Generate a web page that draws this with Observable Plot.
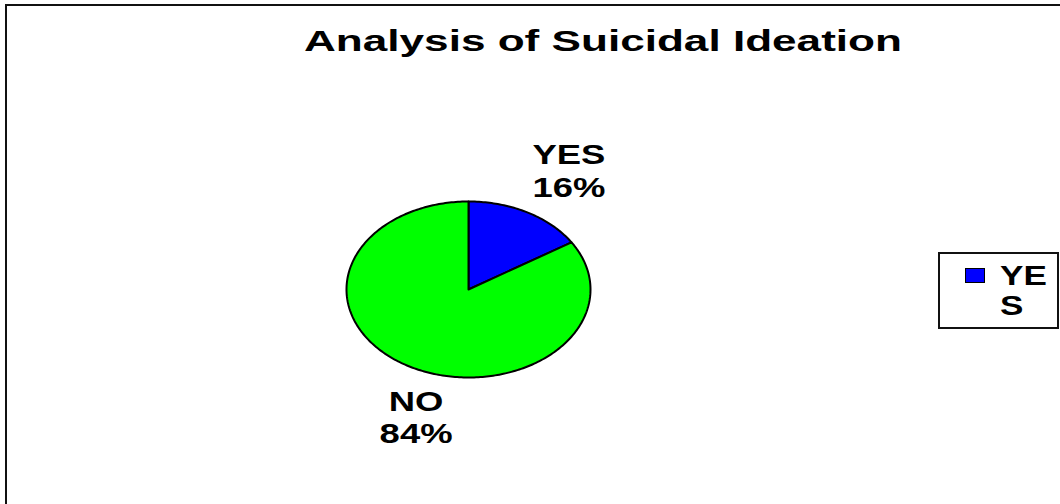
<!DOCTYPE html>
<html><head><meta charset="utf-8">
<script src="https://cdn.jsdelivr.net/npm/d3@7"></script>
<script src="https://cdn.jsdelivr.net/npm/@observablehq/plot@0.6"></script>
<style>
html,body{margin:0;padding:0;background:#fff;overflow:hidden;}
#wrap{position:relative;width:1060px;height:504px;overflow:hidden;font-family:"Liberation Sans",Arial,sans-serif;font-weight:bold;color:#000;}
#frame{position:absolute;left:5px;top:4px;width:1200px;height:700px;border:2px solid #111;box-sizing:border-box;}
#title{position:absolute;left:603px;top:26px;font-size:30px;line-height:30px;white-space:nowrap;transform:translateX(-50%) scaleX(1.47);}
#chart{position:absolute;left:0;top:0;}
#legend{position:absolute;left:938px;top:252px;width:121px;height:77px;border:2px solid #111;box-sizing:border-box;}
#legend .sw{position:absolute;left:25px;top:14px;width:20px;height:15px;border:1px solid #000;box-sizing:border-box;}
#legend .lab{position:absolute;left:60px;top:7px;font-size:27px;line-height:30px;transform-origin:0 0;transform:scaleX(1.3);}
</style></head>
<body><div id="wrap"><div id="frame"></div><div id="chart"></div><div id="title"></div><div id="legend"></div></div>
<script>
const title = "Analysis of Suicidal Ideation";
const categories = ["YES", "NO"];
const values = [16, 84];
const colors = ["#0000ff", "#00ff00"];
const legendLabel = ["YE", "S"];

document.getElementById("title").textContent = title;

const total = d3.sum(values);
const arcs = d3.pie().sort(null)(values);
function slicePoints(a) {
  const pts = [{x: 0, y: 0}];
  const n = Math.max(2, Math.ceil((a.endAngle - a.startAngle) / (Math.PI / 180)));
  for (let i = 0; i <= n; i++) {
    const t = a.startAngle + (a.endAngle - a.startAngle) * i / n;
    pts.push({x: Math.sin(t), y: Math.cos(t)});
  }
  return pts;
}
const labels = categories.map((c, i) => {
  const m = (arcs[i].startAngle + arcs[i].endAngle) / 2;
  return {x: Math.sin(m) * 1.3, y: Math.cos(m) * 1.6,
          text: c + "\n" + Math.round(values[i] / total * 100) + "%"};
});

const chart = Plot.plot({
  width: 1060, height: 504, margin: 0,
  style: {fontFamily: "Liberation Sans, Arial, sans-serif", background: "transparent", overflow: "visible"},
  x: {domain: [-1, 1], range: [346, 590], axis: null},
  y: {domain: [-1, 1], range: [377, 201], axis: null},
  marks: [
    ...categories.map((c, i) => Plot.line(slicePoints(arcs[i]), {
      x: "x", y: "y", curve: "linear-closed", fill: colors[i],
      stroke: "#000", strokeWidth: 2, strokeLinejoin: "round"
    })),
    Plot.text(labels, {x: "x", y: "y", text: "text", dx: 24, dy: 4, fontSize: 27,
      fontWeight: "bold", lineHeight: 1.2, fill: "#000"})
  ]
});
chart.querySelectorAll("text").forEach(t => {
  const tr = t.getAttribute("transform") || "";
  t.setAttribute("transform", tr + " scale(1.35,1)");
});
document.getElementById("chart").appendChild(chart);

const lg = document.getElementById("legend");
const sw = document.createElement("div");
sw.className = "sw"; sw.style.background = colors[0];
lg.appendChild(sw);
const lab = document.createElement("div");
lab.className = "lab"; lab.innerHTML = legendLabel.join("<br>");
lg.appendChild(lab);
</script></body></html>
